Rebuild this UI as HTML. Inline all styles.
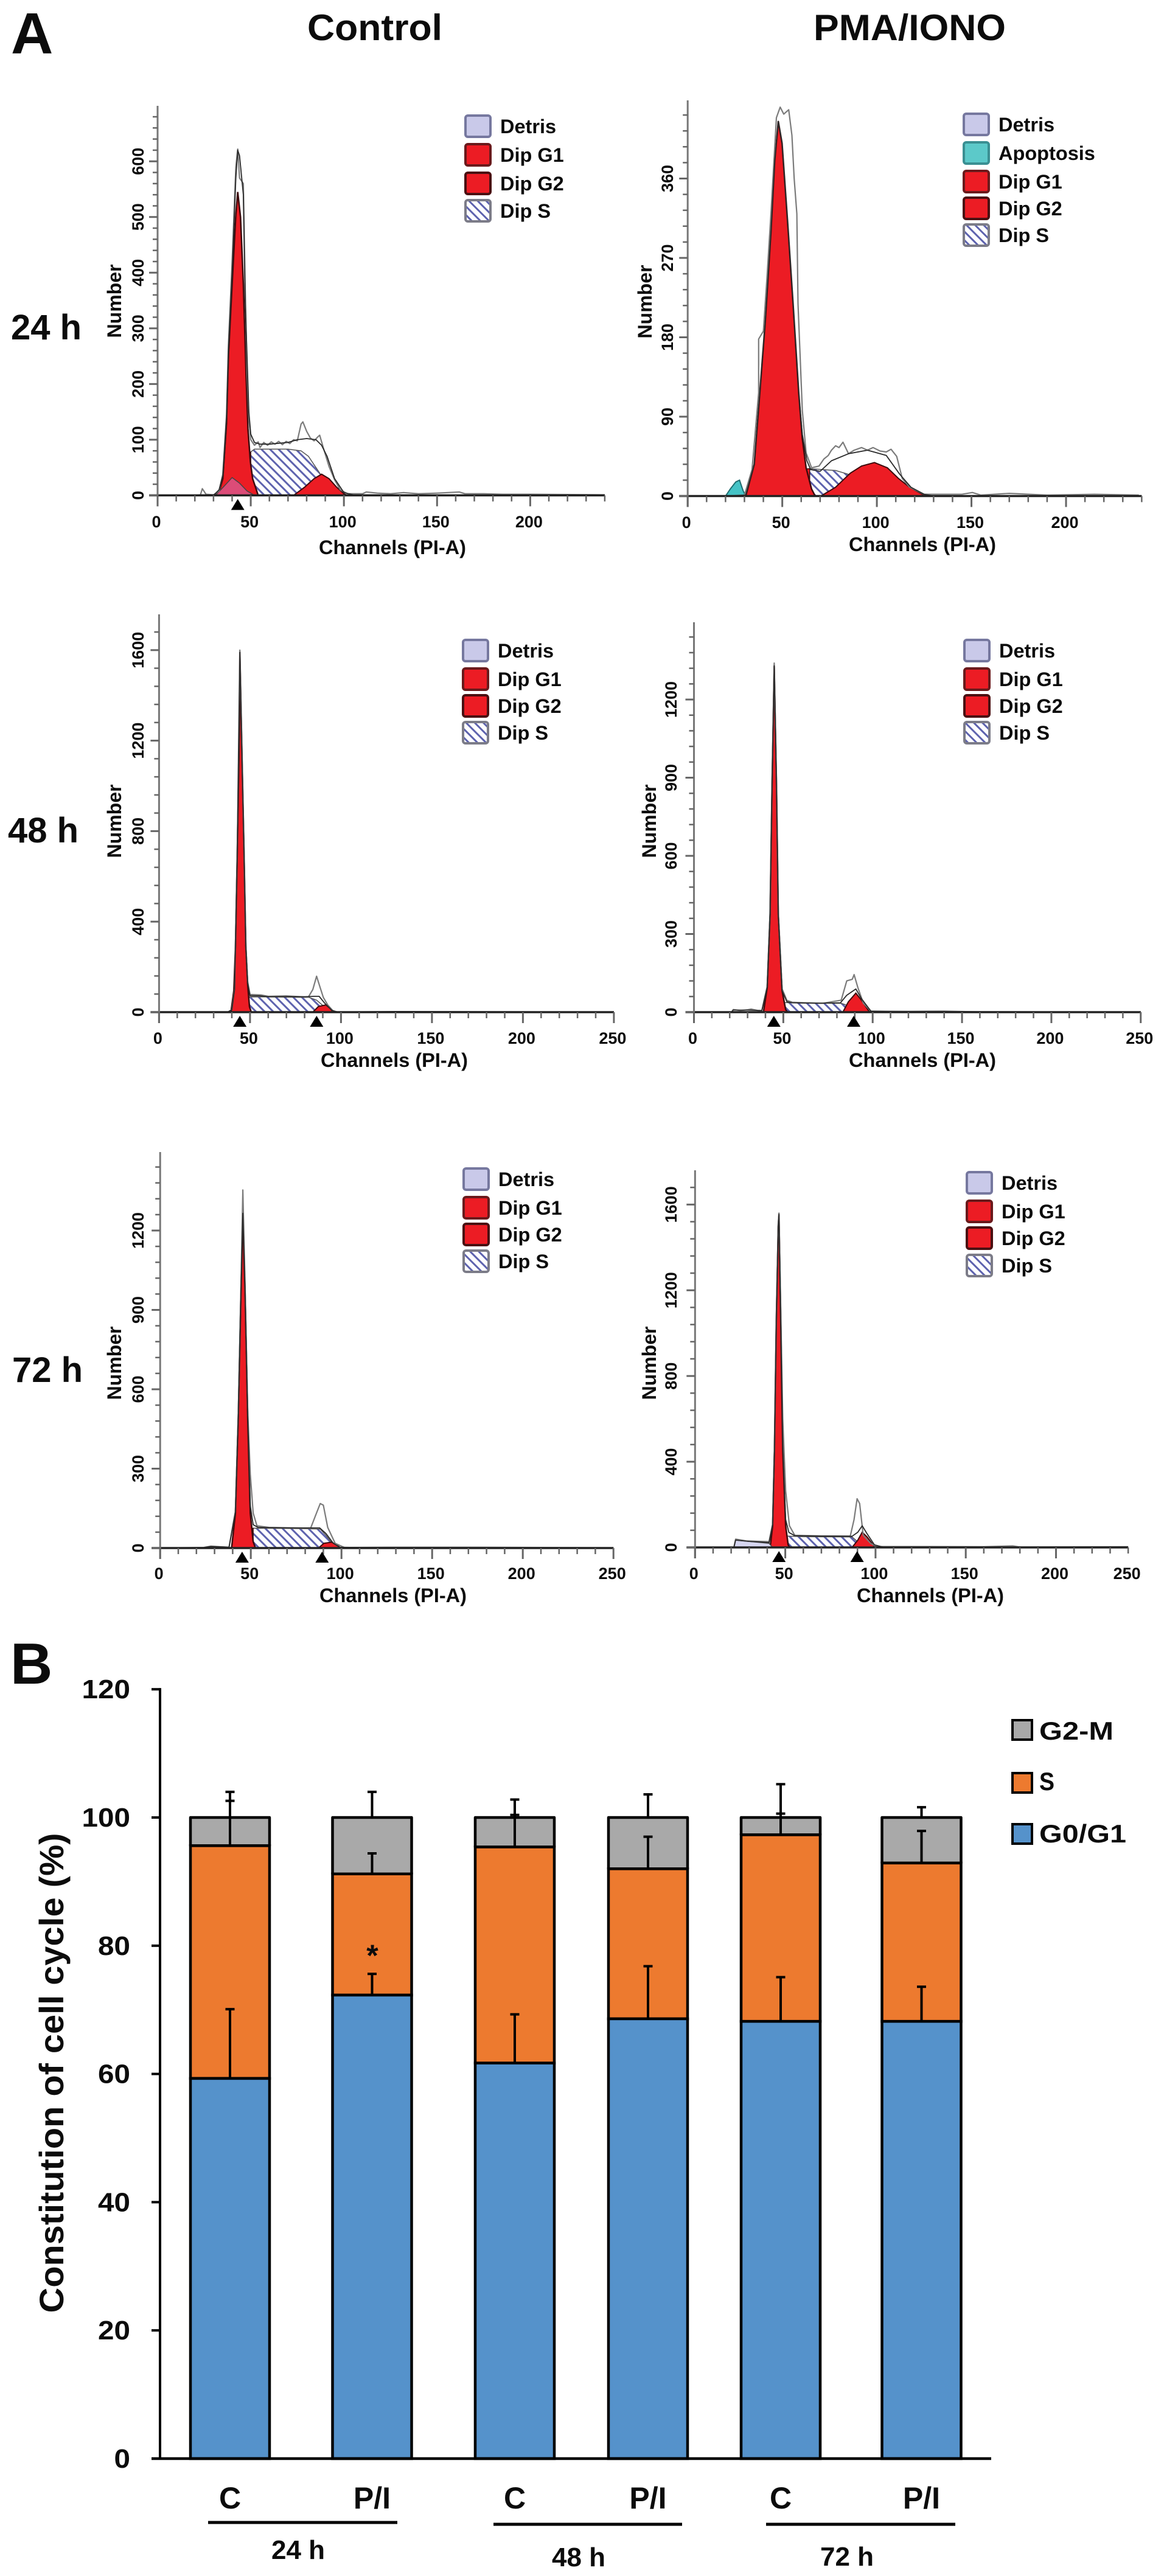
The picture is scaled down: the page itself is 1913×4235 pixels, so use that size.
<!DOCTYPE html>
<html lang="en">
<head>
<meta charset="utf-8">
<title>Cell cycle flow cytometry histograms and stacked bar chart</title>
<style>
html,body{margin:0;padding:0;background:#fff;width:1913px;height:4235px;overflow:hidden}
svg{display:block}
text{font-family:"Liberation Sans",sans-serif;font-weight:bold;fill:#0c0c0c}
</style>
</head>
<body>
<svg id="figure" xmlns="http://www.w3.org/2000/svg" width="1913" height="4235" viewBox="0 0 1913 4235">
  <defs>
    <pattern id="hatch" patternUnits="userSpaceOnUse" width="10" height="10" patternTransform="rotate(-45)">
      <rect width="10" height="10" fill="#fdfdff"/>
      <rect x="0" y="0" width="3" height="10" fill="#5d62ae"/>
    </pattern>
  </defs>
  <rect width="1913" height="4235" fill="#fff"/>
  <text x="18" y="88" font-size="96">A</text>
  <text x="505" y="66" font-size="60" textLength="222" lengthAdjust="spacingAndGlyphs">Control</text>
  <text x="1337" y="66" font-size="60" textLength="316" lengthAdjust="spacingAndGlyphs">PMA/IONO</text>
  <text x="18" y="558" font-size="58">24 h</text>
  <text x="13" y="1385" font-size="58">48 h</text>
  <text x="20" y="2272" font-size="58">72 h</text>
  <text x="17" y="2768" font-size="96">B</text>
  <g id="histograms"></g>
  <g id="bars"></g>
</svg>
<script>
/* ---------- Histogram data: [channel, count] ---------- */
const xTickLabels200 = [0, 50, 100, 150, 200];
const xTickLabels250 = [0, 50, 100, 150, 200, 250];
const xTickValuesP6 = [0, 50, 100, 150, 200, 240];
const legendStandard = ['Detris', 'Dip G1', 'Dip G2', 'Dip S'];
const legendApoptosis = ['Detris', 'Apoptosis', 'Dip G1', 'Dip G2', 'Dip S'];

const p1YTicks = [0, 100, 200, 300, 400, 500, 600];
const p1Peaks = [43];
const p1Debris = [[31,0],[35,14],[40,32],[44,22],[48,8],[52,0]];
const p1G1 = [[30,0],[33,6],[35,30],[37,130],[38,250],[40,380],[42,505],[43,545],[44.5,500],[46,380],[47.5,217],[48.5,120],[49.8,60],[51,30],[53,10],[54,0]];
const p1S = [[36,0],[40,15],[44,28],[47,55],[50,78],[52,83],[60,83],[70,83],[77,80],[81,70],[87,40],[91,20],[95,8],[100,0]];
const p1G2 = [[73,0],[79,15],[84,30],[88,38],[92,30],[96,15],[100,3],[102,0]];
const p1Fit = [[20,0],[24,1],[30,0],[33,10],[35,35],[37,140],[38,260],[40,400],[42,570],[43,620],[44,610],[46,540],[47,350],[48,250],[49,150],[50,110],[52,95],[55,92],[60,92],[70,95],[75,100],[80,102],[85,100],[88,90],[91,70],[95,30],[100,5],[105,1],[240,0]];
const p1Raw = [[20,0],[23,1],[24,12],[26,2],[30,1],[33,8],[35,38],[37,145],[38,270],[40,420],[42,590],[43,622],[44,570],[46,560],[47,380],[48,220],[49,140],[50,100],[52,90],[54,96],[55,86],[57,95],[59,90],[61,96],[63,92],[65,97],[67,91],[69,97],[71,93],[73,100],[75,98],[77,128],[78,132],[80,115],[82,103],[84,98],[86,105],[87,108],[89,85],[92,52],[95,28],[98,10],[102,3],[110,3],[112,6],[118,4],[125,3],[132,5],[140,3],[150,4],[162,6],[165,3],[175,3],[185,2],[200,2],[240,1]];

const p2YTicks = [0, 90, 180, 270, 360];
const p2Peaks = [];
const p2Apoptosis = [[20,0],[22.5,8],[25.4,16],[27.4,18],[29.3,6],[30.7,0]];
const p2G1 = [[30.7,0],[35.2,36],[38.1,117],[41,198],[44,299],[46,380],[47.9,425],[49.9,400],[52.8,311],[55.7,218],[58.7,117],[60.6,65],[62.6,32],[65.5,8],[67.4,0]];
const p2S = [[41,0],[48.9,20],[56.7,30],[64.5,31],[78.2,29],[86,24],[93.8,16],[101.7,8],[111.4,0]];
const p2G2 = [[70.4,0],[78.2,10],[86,26],[91.9,34],[98.7,38],[105.6,32],[111.4,20],[117.3,10],[124,2],[127,0]];
const p2Fit = [[20,0],[30.7,1],[35.2,36],[38.1,117],[41,198],[44,299],[46,380],[47.9,425],[49.9,400],[52.8,311],[55.7,218],[58.7,117],[60.6,70],[63,40],[65,30],[70,28],[76,40],[85,48],[95,52],[105,46],[112,25],[118,10],[125,2],[130,0],[240,0]];
const p2Raw = [[20,0],[30,1],[34,30],[37.5,117],[37.5,178],[40,187],[42,251],[44,320],[46.9,429],[48.9,441],[50.8,433],[53.4,438],[55.1,409],[56.3,360],[57.7,320],[58.3,218],[60.6,97],[62.6,49],[65.5,32],[69.4,34],[72,42],[74.3,46],[76,52],[78.2,57],[80,55],[82.1,61],[85,48],[88,52],[91.9,55],[95,52],[98,55],[101.7,51],[105,50],[107.5,53],[110.5,45],[113.4,20],[117.3,10],[125,2],[135,2],[145,2],[150.5,4],[155,1],[170,3],[190,1],[215,2],[238.5,1]];

const p3YTicks = [0, 400, 800, 1200, 1600];
const p3Peaks = [44.4, 86.6];
const p3G1 = [[39.5,0],[41.1,96],[42,292],[43,714],[44.2,1277],[44.4,1593],[45.6,1136],[46.7,714],[47.7,292],[48.7,124],[49.7,25],[50.7,0]];
const p3S = [[43.6,0],[45.6,53],[48.7,67],[60,68],[82.5,65],[86.6,53],[91.7,18],[94.8,0]];
const p3G2 = [[84.5,0],[87.6,25],[91.7,32],[93.8,18],[95.8,0]];
const p3Fit = [[0,0],[38,2],[40,10],[41.5,100],[43,700],[44.4,1590],[45.6,1136],[46.7,714],[47.7,292],[48.7,130],[50,72],[55,72],[60,68],[70,68],[80,68],[85,70],[88,70],[91,40],[95,8],[98,1],[130,3],[250,1]];
const p3Raw = [[0,0],[38,1],[40,12],[41.5,105],[43,720],[44.4,1600],[45.6,1140],[46.7,720],[47.7,300],[48.7,135],[50,78],[56,76],[60,70],[70,72],[82,66],[84.5,100],[86.6,159],[88.5,110],[90.3,65],[92.7,32],[95.8,4],[98,1],[250,1]];

const p4YTicks = [0, 300, 600, 900, 1200];
const p4Peaks = [44.7, 89.4];
const p4G1 = [[38.9,0],[41,95],[42.6,376],[43.7,864],[44.9,1328],[46.2,864],[47.2,376],[49.3,83],[51.3,10],[52.4,0]];
const p4S = [[40,0],[46,28],[50.3,37],[60,35],[82.4,34],[87.5,22],[93.7,4],[94.8,0]];
const p4G2 = [[83.3,0],[86.4,40],[90.6,73],[93.7,46],[97.9,4],[99,0]];
const p4Fit = [[21,0],[22,8],[30,8],[38,6],[41,95],[42.6,376],[43.7,864],[44.9,1330],[46.2,864],[47.2,376],[49.3,83],[52,40],[55,36],[70,34],[82,36],[85.5,65],[90.6,89],[93.7,52],[99,4],[110,2],[250,1]];
const p4Raw = [[21,0],[22,10],[26,6],[30,9],[32,12],[36,6],[38,6],[41,100],[42.6,380],[43.7,870],[44.9,1340],[46.2,870],[47.2,380],[49.3,90],[52,45],[55,38],[62,36],[72,34],[82.4,46],[85.5,120],[88.6,126],[89.6,144],[91.7,95],[94.8,34],[99,4],[120,3],[140,4],[160,1],[250,1]];

const p5YTicks = [0, 300, 600, 900, 1200];
const p5Peaks = [45.2, 89.3];
const p5G1 = [[39.4,0],[41.5,132],[43.1,493],[44.6,974],[45.6,1262],[46.8,974],[48.3,493],[49.7,132],[51.3,24],[52.6,0]];
const p5S = [[41,0],[45,36],[48.3,66],[51.3,75],[70,74],[88.3,72],[91.4,48],[95.5,12],[97.5,0]];
const p5G2 = [[87.3,0],[90.3,18],[94.5,22],[97.5,12],[99.6,0]];
const p5Fit = [[0,0],[24,2],[28,6],[38,3],[41.5,135],[43.1,500],[44.6,985],[45.6,1265],[46.8,985],[48.3,500],[49.7,160],[51.3,88],[54,78],[70,76],[88,76],[91.4,55],[95.5,18],[99,3],[110,2],[250,1]];
const p5Raw = [[0,0],[24,2],[28,7],[38,3],[41.5,140],[43.1,510],[44.6,1000],[45.6,1353],[46.8,1000],[48.3,520],[49.7,280],[51.3,132],[53.4,84],[60,78],[83,75],[86.2,132],[88.3,168],[90,162],[92.4,78],[96.5,18],[101.6,2],[130,3],[175,3],[250,1]];

const p6YTicks = [0, 400, 800, 1200, 1600];
const p6Peaks = [46.5, 89.8];
const p6Debris = [[21.5,0],[22.5,34],[41,19],[43,0]];
const p6G1 = [[41.6,0],[43,101],[44,457],[45,1050],[46.1,1496],[46.5,1552],[47.5,1050],[48.6,457],[50.2,101],[51.6,12],[52.5,0]];
const p6S = [[42,0],[46,34],[50.2,53],[60,50],[87,49],[91.2,19],[94.3,0]];
const p6G2 = [[87,0],[90.2,34],[92.6,71],[95.3,49],[99.4,4],[100.4,0]];
const p6Fit = [[21.5,0],[22.5,34],[30,28],[41,22],[43,105],[44,460],[45,1055],[46.1,1500],[46.5,1555],[47.5,1055],[48.6,470],[50.2,130],[52,70],[55,56],[70,52],[87,52],[90.2,71],[92.6,101],[95.3,64],[99.4,12],[104,2],[240,1]];
const p6Raw = [[21.5,0],[22.5,39],[28.7,30],[41,27],[43,110],[44,470],[45,1060],[46.1,1510],[46.5,1560],[47.5,1100],[48.6,600],[50.2,264],[52.3,101],[55.3,56],[70,54],[86,53],[88.1,130],[89.8,227],[91.2,205],[93.2,56],[97.3,19],[100.4,4],[130,4],[160,3],[176,7],[180,2],[240,3]];

/* ---------- Stacked bar data ---------- */
const barCategories = ['C', 'P/I', 'C', 'P/I', 'C', 'P/I'];
const g0g1Values = [59.3, 72.3, 61.7, 68.6, 68.2, 68.2];
const sValues = [36.3, 18.9, 33.7, 23.4, 29.1, 24.7];
const g2mValues = [4.4, 8.8, 4.6, 8.0, 2.7, 7.1];
const g0g1Errors = [10.8, 3.3, 7.6, 8.2, 6.9, 5.4];
const sErrors = [7.0, 3.2, 5.0, 5.0, 3.3, 5.0];
const g2mErrors = [4.0, 4.0, 2.8, 3.6, 5.2, 1.6];
const barYTicks = [0, 20, 40, 60, 80, 100, 120];
const barLegendLabels = ['G2-M', 'S', 'G0/G1'];
const timeGroups = ['24 h', '48 h', '72 h'];

/* ---------- Drawing helpers ---------- */
const NS = 'http://www.w3.org/2000/svg';
function mk(parent, tag, attrs, content) {
  const node = document.createElementNS(NS, tag);
  for (const k in attrs) node.setAttribute(k, attrs[k]);
  if (content !== undefined) node.textContent = content;
  parent.appendChild(node);
  return node;
}
const RED = '#ec1c24';
const DARKRED = '#3c0a0c';

function seriesPath(points, sx, sy) {
  return points.map((p, i) => (i ? 'L' : 'M') + sx(p[0]).toFixed(1) + ' ' + sy(p[1]).toFixed(1)).join(' ');
}
function areaPath(points, sx, sy) {
  return seriesPath(points, sx, sy) + ' Z';
}

function drawLegendSwatch(g, kind, x, cy) {
  const styles = {
    'Detris': ['#c9c9e9', '#76789f'],
    'Apoptosis': ['#5cc9c9', '#3a8f92'],
    'Dip G1': [RED, '#6a1a1c'],
    'Dip G2': [RED, '#4a1012'],
    'Dip S': ['url(#hatch)', '#7c7c88']
  };
  const st = styles[kind];
  const el = mk(g, 'rect', {x: x + 2, y: cy - 18, width: 41, height: 35, rx: 4, fill: st[0], stroke: st[1], 'stroke-width': 4});
  
  
}

function drawPanel(cfg) {
  const sx = v => cfg.x0 + v * cfg.xPerUnit;
  const sy = v => cfg.y0 - v * cfg.yPerUnit;
  const g = mk(document.getElementById('histograms'), 'g', {});
  
  

  /* filled model components */
  if (cfg.sHatch) {
    const s = mk(g, 'path', {d: areaPath(cfg.sHatch, sx, sy), fill: 'url(#hatch)', stroke: '#555', 'stroke-width': 1.5});
    
    
    const overlap = cfg.sHatch.filter(p => p[0] <= cfg.sSplit);
    const last = overlap[overlap.length - 1];
    overlap.push([last[0], 0]);
    const o = mk(g, 'path', {d: areaPath(overlap, sx, sy), fill: RED, stroke: DARKRED, 'stroke-width': 1.5});
    
    
  }
  const g1 = mk(g, 'path', {d: areaPath(cfg.g1, sx, sy), fill: RED, stroke: DARKRED, 'stroke-width': 2.5});
  
  
  const g2 = mk(g, 'path', {d: areaPath(cfg.g2, sx, sy), fill: RED, stroke: DARKRED, 'stroke-width': 2});
  
  
  if (cfg.debris) {
    const d = mk(g, 'path', {d: areaPath(cfg.debris, sx, sy), fill: cfg.debrisFill, stroke: '#444', 'stroke-width': 1.5});
    
    
  }
  if (cfg.apoptosis) {
    const a = mk(g, 'path', {d: areaPath(cfg.apoptosis, sx, sy), fill: '#45c3c6', stroke: '#1f6d70', 'stroke-width': 2});
    
    
  }

  /* lines */
  const raw = mk(g, 'path', {d: seriesPath(cfg.raw, sx, sy), fill: 'none', stroke: '#7b7b7b', 'stroke-width': 2.2, 'stroke-linejoin': 'round'});
  
  
  const fit = mk(g, 'path', {d: seriesPath(cfg.fit, sx, sy), fill: 'none', stroke: '#2a2a2a', 'stroke-width': 1.8, 'stroke-linejoin': 'round'});
  
  

  /* axes */
  const xAxis = mk(g, 'line', {x1: cfg.x0 - 14, x2: sx(cfg.xMax), y1: cfg.y0, y2: cfg.y0, stroke: '#222', 'stroke-width': 3.5});
  
  
  const yAxis = mk(g, 'line', {x1: cfg.x0, x2: cfg.x0, y1: cfg.top, y2: cfg.y0 + 18, stroke: '#777', 'stroke-width': 3});
  
  

  for (let v = 0; v <= cfg.xMax; v += 10) {
    const major = v % 50 === 0;
    const t = mk(g, 'line', {x1: sx(v), x2: sx(v), y1: cfg.y0, y2: cfg.y0 + (major ? 18 : 10), stroke: '#666', 'stroke-width': major ? 3 : 2.5});
    
    
  }
  for (let v = 0; sy(v) > cfg.top + 8; v += cfg.yMinorStep) {
    const major = cfg.yTicks.indexOf(v) >= 0;
    const t = mk(g, 'line', {x1: cfg.x0 - (major ? 14 : 8), x2: cfg.x0, y1: sy(v), y2: sy(v), stroke: '#666', 'stroke-width': major ? 3 : 2.5});
    
    
  }

  cfg.xLabels.forEach((lab, i) => {
    const t = mk(g, 'text', {x: sx(cfg.xLabelValues[i]) - 2, y: cfg.xLabelY, 'font-size': 27, 'text-anchor': 'middle'}, String(lab));
    
    
  });
  cfg.yTicks.forEach(v => {
    const yy = sy(v);
    const t = mk(g, 'text', {x: 0, y: 0, 'font-size': 27, 'text-anchor': 'middle', transform: 'translate(' + cfg.yLabelX + ' ' + yy + ') rotate(-90)'}, String(v));
    
    
  });

  const xt = mk(g, 'text', {x: cfg.xTitleX, y: cfg.xTitleY, 'font-size': 32.5, 'text-anchor': 'middle'}, 'Channels (PI-A)');
  
  
  const yt = mk(g, 'text', {x: 0, y: 0, 'font-size': 32, 'text-anchor': 'middle', transform: 'translate(' + cfg.yTitleX + ' ' + cfg.yTitleY + ') rotate(-90)'}, 'Number');
  
  

  /* peak markers */
  cfg.peaks.forEach(ch => {
    const px = sx(ch);
    const yA = cfg.y0 + 6;
    const m = mk(g, 'path', {d: 'M' + px + ' ' + yA + ' L' + (px + 11) + ' ' + (yA + 18) + ' L' + (px - 11) + ' ' + (yA + 18) + ' Z', fill: '#000'});
    
    
  });

  /* legend */
  cfg.legend.forEach((lab, i) => {
    drawLegendSwatch(g, lab, cfg.legendX, cfg.legendRows[i]);
    const t = mk(g, 'text', {x: cfg.legendX + 59, y: cfg.legendRows[i] + 11, 'font-size': 32.5}, lab);
    
    
  });
}

drawPanel({name:'histogram-control-24h', x0:259, xPerUnit:3.062, xMax:240, y0:814.4, yPerUnit:0.9153, top:174, yTicks:p1YTicks, yMinorStep:20,
  xLabels:xTickLabels200, xLabelValues:xTickLabels200, xLabelY:867, yLabelX:236, xTitleX:645, xTitleY:911, yTitleX:199, yTitleY:495,
  g1:p1G1, sHatch:p1S, sSplit:50, g2:p1G2, debris:p1Debris, debrisFill:'#dc4c78', fit:p1Fit, raw:p1Raw, peaks:p1Peaks,
  legend:legendStandard, legendX:763, legendRows:[208,255,302,347]});

drawPanel({name:'histogram-pma-iono-24h', x0:1130.2, xPerUnit:3.109, xMax:240, y0:815.5, yPerUnit:1.45, top:165, yTicks:p2YTicks, yMinorStep:18,
  xLabels:xTickLabels200, xLabelValues:xTickLabels200, xLabelY:868, yLabelX:1106, xTitleX:1516, xTitleY:906, yTitleX:1071, yTitleY:496,
  g1:p2G1, sHatch:p2S, sSplit:64.5, g2:p2G2, apoptosis:p2Apoptosis, fit:p2Fit, raw:p2Raw, peaks:p2Peaks,
  legend:legendApoptosis, legendX:1582, legendRows:[205,252,299,343,387]});

drawPanel({name:'histogram-control-48h', x0:261.4, xPerUnit:2.99, xMax:250, y0:1664, yPerUnit:0.372, top:1010, yTicks:p3YTicks, yMinorStep:80,
  xLabels:xTickLabels250, xLabelValues:xTickLabels250, xLabelY:1716, yLabelX:236, xTitleX:648, xTitleY:1754, yTitleX:199, yTitleY:1350,
  g1:p3G1, sHatch:p3S, sSplit:48.7, g2:p3G2, fit:p3Fit, raw:p3Raw, peaks:p3Peaks,
  legend:legendStandard, legendX:759, legendRows:[1070,1117,1161,1205]});

drawPanel({name:'histogram-pma-iono-48h', x0:1140.5, xPerUnit:2.937, xMax:250, y0:1664, yPerUnit:0.4283, top:1023, yTicks:p4YTicks, yMinorStep:60,
  xLabels:xTickLabels250, xLabelValues:xTickLabels250, xLabelY:1716, yLabelX:1112, xTitleX:1516, xTitleY:1754, yTitleX:1078, yTitleY:1350,
  g1:p4G1, sHatch:p4S, sSplit:50.3, g2:p4G2, fit:p4Fit, raw:p4Raw, peaks:p4Peaks,
  legend:legendStandard, legendX:1583, legendRows:[1070,1117,1161,1205]});

drawPanel({name:'histogram-control-72h', x0:263.2, xPerUnit:2.98, xMax:250, y0:2545, yPerUnit:0.435, top:1894, yTicks:p5YTicks, yMinorStep:60,
  xLabels:xTickLabels250, xLabelValues:xTickLabels250, xLabelY:2596, yLabelX:236, xTitleX:646, xTitleY:2634, yTitleX:199, yTitleY:2241,
  g1:p5G1, sHatch:p5S, sSplit:51.3, g2:p5G2, fit:p5Fit, raw:p5Raw, peaks:p5Peaks,
  legend:legendStandard, legendX:760, legendRows:[1939,1986,2030,2074]});

drawPanel({name:'histogram-pma-iono-72h', x0:1142.3, xPerUnit:2.966, xMax:240, y0:2544, yPerUnit:0.3523, top:1924, yTicks:p6YTicks, yMinorStep:80,
  xLabels:xTickLabels250, xLabelValues:xTickValuesP6, xLabelY:2596, yLabelX:1112, xTitleX:1529, xTitleY:2634, yTitleX:1078, yTitleY:2241,
  g1:p6G1, sHatch:p6S, sSplit:50.2, g2:p6G2, debris:p6Debris, debrisFill:'#d6d6f0', fit:p6Fit, raw:p6Raw, peaks:p6Peaks,
  legend:legendStandard, legendX:1587, legendRows:[1945,1992,2036,2081]});

/* ---------- Stacked bar chart ---------- */
(function drawBars() {
  const root = document.getElementById('bars');
  const Y0 = 4042, PER = 10.54, AX = 263;
  const sy = v => Y0 - v * PER;
  const centerLayout = [378, 611.5, 846, 1065, 1283, 1514.5];
  const halfWidth = 65;
  const colours = {g1: '#5592cb', s: '#ed7a2f', g2: '#a9a9a9'};

  barYTicks.forEach(v => {
    const t = mk(root, 'line', {x1: 249, x2: AX, y1: sy(v), y2: sy(v), stroke: '#000', 'stroke-width': 4});
    
    
    const l = mk(root, 'text', {x: 214, y: sy(v) + 15, 'font-size': 44, 'text-anchor': 'end', textLength: String(v).length * 26.5, lengthAdjust: 'spacingAndGlyphs'}, String(v));
    
    
  });

  const title = mk(root, 'text', {x: 0, y: 0, 'font-size': 56, 'text-anchor': 'middle', textLength: 789, lengthAdjust: 'spacingAndGlyphs', transform: 'translate(104 3408) rotate(-90)'}, 'Constitution of cell cycle (%)');
  
  

  barCategories.forEach((cat, i) => {
    const cx = centerLayout[i];
    const x = cx - halfWidth;
    const g1Top = g0g1Values[i];
    const sTop = g1Top + sValues[i];
    const g2Top = sTop + g2mValues[i];

    const rectG2 = mk(root, 'rect', {x: x, y: sy(g2Top), width: halfWidth * 2, height: sy(sTop) - sy(g2Top), fill: colours.g2, stroke: '#000', 'stroke-width': 4.5, 'stroke-linejoin': 'round'});
    
    
    const rectS = mk(root, 'rect', {x: x, y: sy(sTop), width: halfWidth * 2, height: sy(g1Top) - sy(sTop), fill: colours.s, stroke: '#000', 'stroke-width': 4.5});
    
    
    const rectG1 = mk(root, 'rect', {x: x, y: sy(g1Top), width: halfWidth * 2, height: sy(0) - sy(g1Top), fill: colours.g1, stroke: '#000', 'stroke-width': 4.5});
    
    

    [[g1Top, g0g1Errors[i]], [sTop, sErrors[i]], [g2Top, g2mErrors[i]]].forEach(pair => {
      const e = mk(root, 'path', {d: 'M' + cx + ' ' + sy(pair[0]) + ' V' + sy(pair[0] + pair[1]) + ' M' + (cx - 7.5) + ' ' + sy(pair[0] + pair[1]) + ' H' + (cx + 7.5), fill: 'none', stroke: '#000', 'stroke-width': 4});
      
      
    });

    const lab = mk(root, 'text', {x: cx, y: 4124, 'font-size': 50, 'text-anchor': 'middle'}, cat);
    
    
  });

  const yLine = mk(root, 'line', {x1: AX, x2: AX, y1: sy(120) - 2, y2: Y0, stroke: '#000', 'stroke-width': 4});
  
  
  const xLine = mk(root, 'line', {x1: 249, x2: 1629, y1: Y0, y2: Y0, stroke: '#000', 'stroke-width': 4.5});
  
  

  const star = mk(root, 'text', {x: 612, y: 3232, 'font-size': 50, 'text-anchor': 'middle'}, '*');
  
  

  const groupLayout = [[342, 653, 4147, 490, 4207], [811, 1121, 4150, 951, 4219], [1259, 1570, 4150, 1392, 4218]];
  timeGroups.forEach((name, i) => {
    const lay = groupLayout[i];
    const rule = mk(root, 'line', {x1: lay[0], x2: lay[1], y1: lay[2], y2: lay[2], stroke: '#000', 'stroke-width': 5});
    
    
    const t = mk(root, 'text', {x: lay[3], y: lay[4], 'font-size': 44, 'text-anchor': 'middle'}, name);
    
    
  });

  const legendLayout = [[2828, 2860, colours.g2, 122], [2915, 2943, colours.s, 25], [2999, 3029, colours.g1, 143]];
  barLegendLabels.forEach((name, i) => {
    const lay = legendLayout[i];
    const sw = mk(root, 'rect', {x: 1664, y: lay[0], width: 32, height: 32, fill: lay[2], stroke: '#000', 'stroke-width': 4});
    
    
    const t = mk(root, 'text', {x: 1708, y: lay[1], 'font-size': 42, textLength: lay[3], lengthAdjust: 'spacingAndGlyphs'}, name);
    
    
  });
})();
</script>
</body>
</html>
